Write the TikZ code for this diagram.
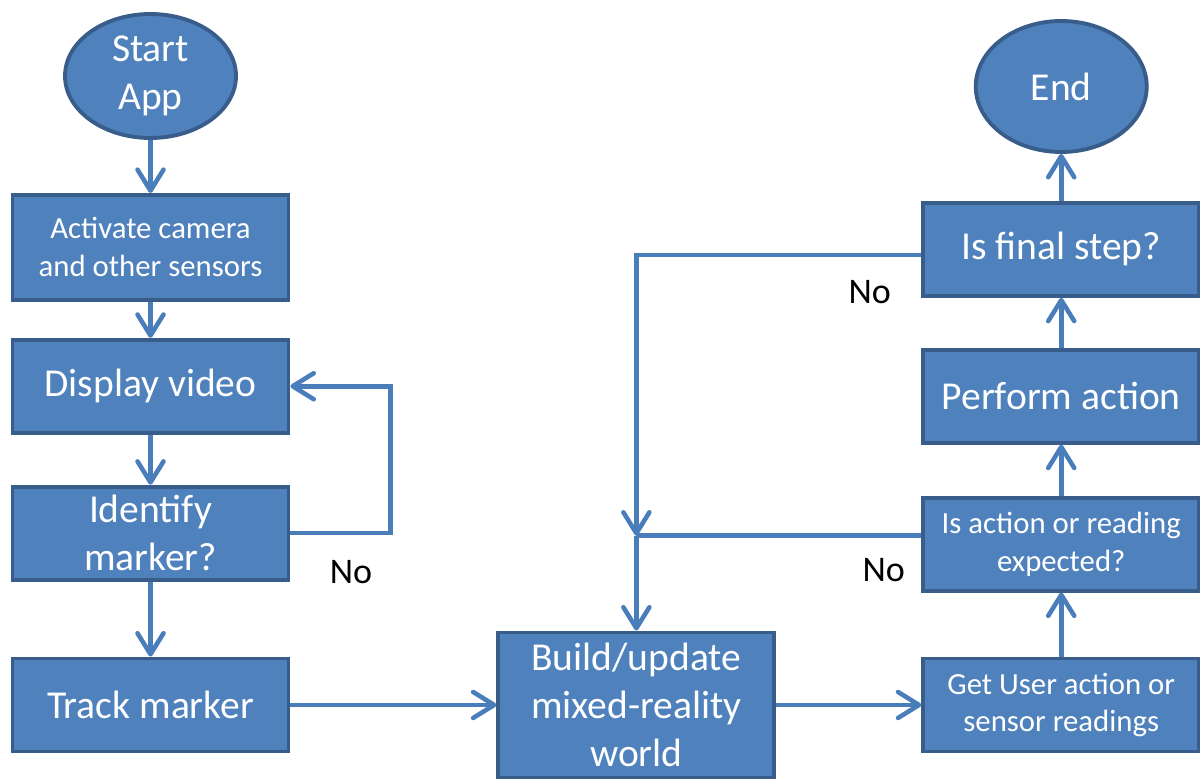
\documentclass[tikz,border=0pt]{standalone}
\usepackage{fontspec}
\setmainfont{Carlito}
\usetikzlibrary{shapes.geometric, arrows.meta, positioning, calc}
\usepackage{xcolor}
\definecolor{boxFill}{HTML}{4F81BD}
\definecolor{boxLine}{HTML}{385D8A}
\definecolor{flowBlue}{HTML}{4A7EBB}
\newcommand{\bigtxt}{\fontsize{22.5}{27.5}\selectfont}
\newcommand{\smalltxt}{\fontsize{17.5}{21.5}\selectfont}
\tikzset{
    >={Straight Barb[length=0.42cm, width=0.52cm, round]},
    % Shapes
    proc/.style={rectangle, draw=boxLine, fill=boxFill, line width=2.2pt,
                 minimum width=5.52cm, minimum height=1.86cm, align=center,
                 text=white, font=\bigtxt},
    procSmall/.style={proc, font=\smalltxt},
    term/.style={ellipse, draw=boxLine, fill=boxFill, line width=2.2pt,
                 minimum width=3.42cm, inner sep=0pt, align=center,
                 text=white, font=\bigtxt},
    % Flow & Labels
    flow/.style={->, line width=2.6pt, flowBlue},
    wire/.style={line width=2.6pt, flowBlue},
    nolbl/.style={font=\fontsize{20.5}{24}\selectfont, text=black, inner sep=2pt}
}

\begin{document}
\begin{tikzpicture}
\useasboundingbox (0,0) rectangle (24,-15.62);

% left column
\node[term, minimum height=2.48cm] (start) at (3.01,-1.52) {Start\\App};
\node[procSmall, minimum height=2.1cm, below=1.06cm of start] (activate) {Activate camera\\and other sensors};
\node[proc, below=0.72cm of activate] (display) {Display video};
\node[proc, below=1cm of display] (identify) {Identify\\marker?};
\node[proc, below=1.5cm of identify] (track) {Track marker};

% bottom row
\node[proc, minimum height=2.9cm, right=4.12cm of track] (build) {Build/update\\mixed-reality\\world};
\node[procSmall, right=2.9cm of build] (getinput) {Get User action or\\sensor readings};

% right column
\node[procSmall, above=1.28cm of getinput] (expected) {Is action or reading\\expected?};
\node[proc, above=1.02cm of expected] (perform) {Perform action};
\node[proc, above=1cm of perform] (final) {Is final step?};
\node[term, minimum height=2.62cm, above=1cm of final, yshift=-0.06cm] (end) {End};

% "No" branches
\node[nolbl, below right=0.46cm and 0.71cm of identify.east] (noMarker) {No};
\node[nolbl, below left=0.55cm and 0.53cm of final.west] (noFinal) {No};
\node[nolbl, below left=0.21cm and 0.25cm of expected.west] (noExpected) {No};

\coordinate (split) at ([yshift=0.17cm]expected.west);
\coordinate (merge) at (build.north |- split);

\draw[flow] (start) -- (activate);
\draw[flow] (activate) -- (display);
\draw[flow] (display) -- (identify);
\draw[flow] (identify) -- (track);
\draw[flow] (identify.east) -- ++(2,0) |- (display.east);
\draw[flow] (track) -- (build);
\draw[flow] (build) -- (getinput);
\draw[flow] (getinput) -- (expected);
\draw[flow] (expected) -- (perform);
\draw[flow] (perform) -- (final);
\draw[flow] (final) -- (end);
\draw[flow] ([yshift=-0.11cm]final.west) -| (merge);
\draw[wire] (split) -- (merge);
\draw[flow] (merge) -- (build.north);

\end{tikzpicture}
\end{document}
